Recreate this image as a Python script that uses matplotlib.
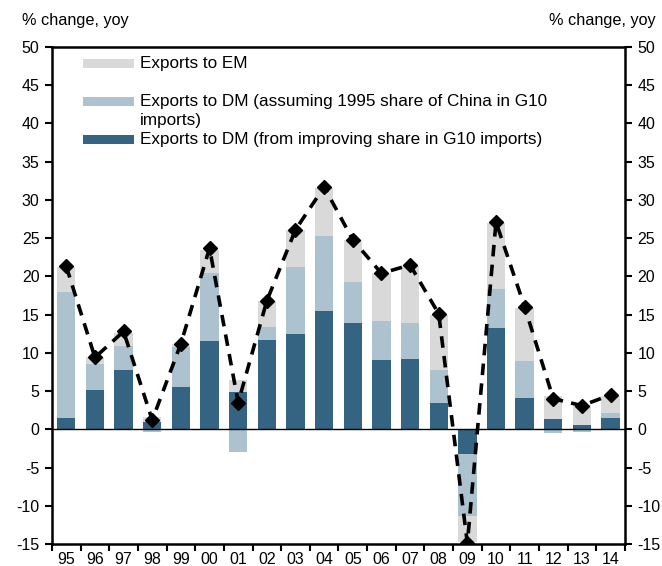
import matplotlib
matplotlib.use("Agg")
import matplotlib.pyplot as plt
from matplotlib.patches import Rectangle
import numpy as np

plt.rcParams['font.family'] = ['Liberation Sans', 'DejaVu Sans']
plt.rcParams['axes.unicode_minus'] = False

years = ['95', '96', '97', '98', '99', '00', '01', '02', '03', '04',
         '05', '06', '07', '08', '09', '10', '11', '12', '13', '14']
dm_improving = [1.5, 5.1, 7.8, 1.0, 5.5, 11.5, 4.9, 11.7, 12.5, 15.5,
                13.9, 9.0, 9.2, 3.5, -3.2, 13.2, 4.1, 1.4, 0.5, 1.5]
dm_1995_share = [16.4, 3.5, 3.1, -0.4, 5.2, 8.9, -3.0, 1.7, 8.7, 9.8,
                 5.4, 5.2, 4.7, 4.2, -8.2, 5.2, 4.8, -0.5, -0.3, 0.6]
exports_em = [3.3, 0.8, 1.7, 0.6, 0.4, 3.1, 1.5, 3.4, 4.9, 6.3,
              5.5, 6.2, 7.5, 7.3, -3.4, 8.6, 7.0, 3.0, 2.7, 2.3]
total = [21.3, 9.4, 12.8, 1.2, 11.2, 23.7, 3.5, 16.8, 26.1, 31.7,
         24.8, 20.4, 21.5, 15.1, -14.9, 27.1, 16.0, 4.0, 3.1, 4.5]

labels = ['Exports to EM',
          'Exports to DM (assuming 1995 share of China in G10\nimports)',
          'Exports to DM (from improving share in G10 imports)']
c_em = '#d9d9d9'
c_lb = '#adc2cf'
c_dk = '#356482'

fig = plt.figure(figsize=(6.62, 5.66), dpi=100)
ax = fig.add_axes([0.0785, 0.0389, 0.8655, 0.878])

x = np.arange(len(years))
pos = np.zeros(len(years))
neg = np.zeros(len(years))
w = 0.64
for vals, col in [(dm_improving, c_dk), (dm_1995_share, c_lb), (exports_em, c_em)]:
    v = np.array(vals)
    bottom = np.where(v >= 0, pos, neg)
    ax.bar(x, v, bottom=bottom, width=w, color=col, linewidth=0, zorder=2)
    pos = pos + np.where(v >= 0, v, 0)
    neg = neg + np.where(v < 0, v, 0)

ax.axhline(0, color='black', lw=1.0, zorder=3)
ax.plot(x, total, color='black', lw=2.6, dashes=(3.2, 2.3), marker='D',
        ms=7.5, zorder=4)

ax.set_xlim(-0.5, len(years) - 0.5)
ax.set_ylim(-15, 50)
ax.set_yticks(np.arange(-15, 51, 5))
ax.set_xticks(np.arange(-0.5, len(years), 1))
ax.set_xticklabels([])
ax.set_xticks(x, minor=True)
ax.set_xticklabels(years, minor=True)
ax.tick_params(axis='x', which='minor', length=0, pad=6, labelsize=11.5)
ax.tick_params(axis='x', which='major', direction='out', length=5, width=1.5)
ax.tick_params(axis='y', direction='out', length=5, width=1.5, labelsize=11.5,
               right=True, labelright=True, pad=4)
for s in ax.spines.values():
    s.set_linewidth(1.8)

fig.text(0.033, 0.963, '% change, yoy', fontsize=11.7, va='center', ha='left')
fig.text(0.99, 0.963, '% change, yoy', fontsize=11.7, va='center', ha='right')

# legend (manual, top-left inside axes)
entries = [(c_em, 0.967, labels[0]), (c_lb, 0.890, labels[1]), (c_dk, 0.814, labels[2])]
line_step = 0.0385
for col, yc, lab in entries:
    ax.add_patch(Rectangle((0.0535, yc - 0.009), 0.09, 0.018, transform=ax.transAxes,
                           facecolor=col, edgecolor='none', zorder=5))
    for i, line in enumerate(lab.split('\n')):
        ax.text(0.1536, yc - i * line_step, line, transform=ax.transAxes,
                fontsize=12.3, va='center', ha='left', zorder=5)

fig.savefig('out.png', dpi=100)
